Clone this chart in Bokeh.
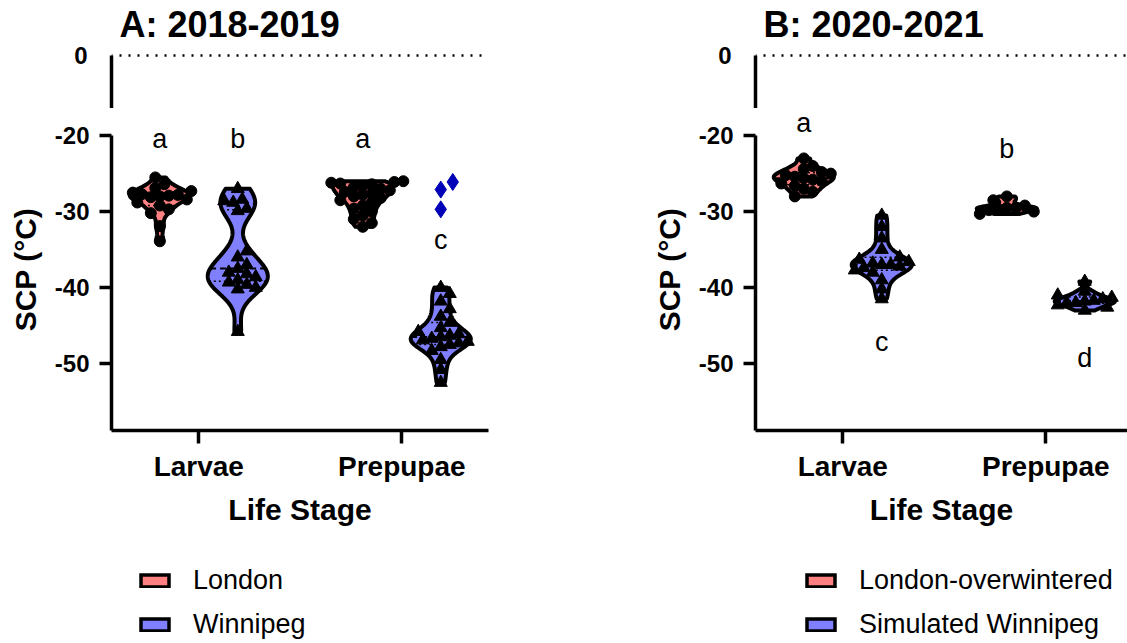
import numpy as np
from bokeh.plotting import figure
from bokeh.layouts import row, column
from bokeh.models import (FixedTicker, Range1d, Legend, LegendItem, LinearAxis, Span)
from bokeh.embed import file_html
from bokeh.resources import INLINE
from bokeh.core.properties import value

FONT = "Liberation Sans"
RED = "#FF8080"
BLUE = "#8080FF"
DIAMOND = "#0000B8"

stages = ["Larvae", "Prepupae"]
y_ticks = [-20, -30, -40, -50]

# --- 2018-2019 supercooling points (°C) ---
a_london_larvae = [-25.5, -26.4, -26.9, -27.3, -27.5, -27.7, -27.8, -27.9, -28.0, -28.1,
                   -28.4, -28.8, -29.2, -29.7, -30.2, -31.9, -33.9]
a_winnipeg_larvae = [-27.0, -28.4, -28.6, -28.8, -29.6, -29.9, -35.2, -36.0, -37.0, -37.5,
                     -38.0, -38.2, -38.6, -39.0, -39.3, -39.6, -40.0, -40.2, -45.8]
a_london_prepupae = [-26.0, -26.1, -26.2, -26.3, -26.4, -26.6, -26.8, -27.0, -27.2, -27.4,
                     -27.6, -27.8, -28.0, -28.2, -28.5, -28.8, -29.2, -29.6, -30.0, -30.5,
                     -31.0, -31.5, -32.0]
a_winnipeg_prepupae = [-40.0, -40.8, -41.8, -42.8, -43.8, -44.6, -45.3, -45.8, -46.1, -46.3,
                       -46.5, -46.7, -46.9, -47.1, -47.3, -47.5, -47.8, -48.3, -49.5, -50.8,
                       -52.5]
a_winnipeg_prepupae_high = [-26.1, -27.1, -29.7]
a_letters = ["a", "b", "a", "c"]
a_letter_y = [-20.4, -20.4, -20.4, -33.7]

# --- 2020-2021 supercooling points (°C) ---
b_london_larvae = [-23.0, -24.0, -24.4, -24.8, -25.0, -25.2, -25.4, -25.6, -25.8, -26.0,
                   -26.3, -26.6, -27.0, -27.4, -28.0]
b_sim_larvae = [-30.5, -32.0, -33.5, -35.0, -36.0, -36.3, -36.6, -36.8, -37.0, -37.0,
                -37.2, -37.4, -37.7, -38.0, -39.0, -40.2, -41.5]
b_london_prepupae = [-28.0, -28.5, -29.2, -29.5, -29.5, -29.6, -29.8, -30.0, -30.3]
b_sim_prepupae = [-39.2, -40.5, -41.0, -41.3, -41.5, -41.7, -41.8, -42.0, -42.0, -42.3,
                  -42.6, -43.0]
b_letters = ["a", "c", "b", "d"]
b_letter_y = [-18.4, -47.1, -21.8, -49.3]

# screen scale (px per data unit) shared by both panels
PX_X = 203.0
PX_Y = 7.6
Y_LO = -58.8
LOWER_H = 322
FRAME_TOP = 45
UPPER_H = 63
AXIS_H = 110
PAGE_H = 643
DODGE = 0.192
HALF_W = 0.148


def kde_outline(vals, center, bw_scale=0.6, n=160):
    v = np.asarray(vals, float)
    sd = v.std(ddof=1)
    bw = bw_scale * 1.06 * sd * len(v) ** -0.2
    ys = np.linspace(v.min(), v.max(), n)
    dens = np.exp(-0.5 * ((ys[:, None] - v[None, :]) / bw) ** 2).sum(1)
    w = dens / dens.max() * HALF_W
    xs = np.concatenate([center - w, (center + w)[::-1]])
    yy = np.concatenate([ys, ys[::-1]])
    return xs, yy, ys, w


def swarm(vals, center, diam=9.0, step=4.5):
    v = np.asarray(vals, float)
    order = np.argsort(np.abs(v - np.median(v)))
    placed = []
    xs = np.zeros(len(v))
    cands = [0.0] + [s * j * step for j in range(1, 30) for s in (1, -1)]
    for i in order:
        py = v[i] * PX_Y
        for c in cands:
            if all((c - qx) ** 2 + (py - qy) ** 2 >= diam ** 2 for qx, qy in placed):
                break
        placed.append((c, py))
        xs[i] = center + c / PX_X
    return xs


def style_axis(ax):
    ax.axis_line_width = 3.5
    ax.major_tick_line_width = 3.5
    ax.major_tick_in = 0
    ax.minor_tick_line_color = None
    ax.major_label_text_font = FONT
    ax.major_label_text_font_style = "bold"
    ax.major_label_text_color = "black"
    ax.axis_label_text_font = FONT
    ax.axis_label_text_font_style = "bold"
    ax.axis_label_text_font_size = "30px"
    ax.axis_label_text_color = "black"


def bare(p):
    p.grid.visible = False
    p.outline_line_color = None
    p.background_fill_color = "white"
    p.border_fill_color = "white"


def panel(title, series, extra, letters, letter_y, frame_w, right_pad, legend_x):
    x_rng = Range1d(-0.43, -0.43 + frame_w / PX_X)
    common = dict(frame_width=frame_w, min_border_left=111, min_border_right=right_pad,
                  x_range=x_rng, output_backend="svg", toolbar_location=None,
                  x_axis_location=None, y_axis_location=None)

    # upper segment of the broken axis: only the 0 reference
    top = figure(frame_height=UPPER_H, min_border_top=FRAME_TOP, min_border_bottom=0,
                 y_range=Range1d(-5.3, 1.0), **common)
    bare(top)
    top.title.text = title
    top.title.text_font = FONT
    top.title.text_font_size = "36px"
    top.title.text_font_style = "bold"
    top.title.text_color = "black"
    top.title.standoff = 2
    top.title.offset = 8
    top_axis = LinearAxis(ticker=FixedTicker(ticks=[0]), major_label_overrides={0: "0"},
                          bounds=(-5.3, 0))
    style_axis(top_axis)
    top_axis.major_tick_out = 0
    top_axis.major_label_standoff = 24
    top_axis.major_label_text_font_size = "24px"
    top.add_layout(top_axis, "left")
    top.add_layout(Span(location=0, dimension="width", line_color="black",
                        line_width=2.5, line_dash="2 7", line_dash_offset=-8))

    # lower segment with the data
    low = figure(frame_height=LOWER_H, min_border_top=0, min_border_bottom=AXIS_H,
                 y_range=Range1d(Y_LO, Y_LO + LOWER_H / PX_Y), **common)
    bare(low)
    y_axis = LinearAxis(ticker=FixedTicker(ticks=y_ticks),
                        major_label_overrides={t: str(t) for t in y_ticks},
                        bounds=(Y_LO, -20), axis_label="SCP (°C)")
    style_axis(y_axis)
    y_axis.major_tick_out = 12
    y_axis.major_label_standoff = 10
    y_axis.major_label_text_font_size = "24px"
    y_axis.axis_label_standoff = 10
    low.add_layout(y_axis, "left")
    x_axis = LinearAxis(ticker=FixedTicker(ticks=[0, 1]),
                        major_label_overrides={0: stages[0], 1: stages[1]},
                        axis_label="Life Stage")
    style_axis(x_axis)
    x_axis.major_tick_out = 13
    x_axis.major_label_standoff = 7
    x_axis.major_label_text_font_size = "28px"
    x_axis.axis_label_standoff = 8
    low.add_layout(x_axis, "below")

    # legend strip
    leg = figure(frame_height=PAGE_H - FRAME_TOP - UPPER_H - LOWER_H - AXIS_H,
                 min_border_top=0, min_border_bottom=0, y_range=Range1d(0, 1), **common)
    bare(leg)

    items = []
    for vals_pair, side, color, marker, size, label in series:
        xs_all, ys_all = [], []
        px, py = [], []
        quart = []
        for stage, vals in enumerate(vals_pair):
            c = stage + side * DODGE
            xs, yy, grid_y, w = kde_outline(vals, c)
            xs_all.append(xs)
            ys_all.append(yy)
            for q, dash, lw in ((50, "6 4", 2.0), (25, "2 3", 1.5), (75, "2 3", 1.5)):
                qy = np.percentile(vals, q)
                qw = np.interp(qy, grid_y, w)
                quart.append((c - qw, c + qw, qy, dash, lw))
            px.extend(swarm(vals, c))
            py.extend(vals)
        low.patches(xs_all, ys_all, fill_color=color, line_color="black",
                    line_width=4, line_join="round")
        for x0, x1, qy, dash, lw in quart:
            low.segment(x0, qy, x1, qy, line_color="black", line_width=lw, line_dash=dash)
        low.scatter(px, py, marker=marker, size=size, fill_color="black", line_color="black")
        key = leg.patches([[np.nan]], [[np.nan]], fill_color=color, line_color="black",
                          line_width=3.5, line_join="miter")
        items.append(LegendItem(label=label, renderers=[key]))

    if extra is not None:
        vals, stage, side = extra
        c = stage + side * DODGE
        low.scatter(swarm(vals, c, diam=12, step=6), vals, marker="diamond", size=17,
                    fill_color=DIAMOND, line_color=DIAMOND)

    lx = [k // 2 + (-1 if k % 2 == 0 else 1) * DODGE for k in range(4)]
    low.text(lx, letter_y, text=letters, text_font=value(FONT), text_font_size="27px",
             text_align="center", text_baseline="middle", text_color="black")

    legend = Legend(items=items, location=(legend_x, 3), orientation="vertical",
                    glyph_width=35, glyph_height=15, label_standoff=21,
                    label_text_font=FONT, label_text_font_size="27px",
                    label_text_color="black",
                    spacing=13, padding=0, margin=0, border_line_color=None,
                    background_fill_alpha=0)
    leg.add_layout(legend, "center")
    return column(top, low, leg, spacing=0)


left = panel("A: 2018-2019",
             [((a_london_larvae, a_london_prepupae), -1, RED, "circle", 11, "London"),
              ((a_winnipeg_larvae, a_winnipeg_prepupae), 1, BLUE, "triangle", 13, "Winnipeg")],
             (a_winnipeg_prepupae_high, 1, 1), a_letters, a_letter_y, 377, 156, 26)
right = panel("B: 2020-2021",
              [((b_london_larvae, b_london_prepupae), -1, RED, "circle", 11,
                "London-overwintered"),
               ((b_sim_larvae, b_sim_prepupae), 1, BLUE, "triangle", 13,
                "Simulated Winnipeg")],
              None, b_letters, b_letter_y, 372, 0, 48)

page = row(left, right, spacing=0)
open("out.html", "w").write(file_html(page, INLINE))
